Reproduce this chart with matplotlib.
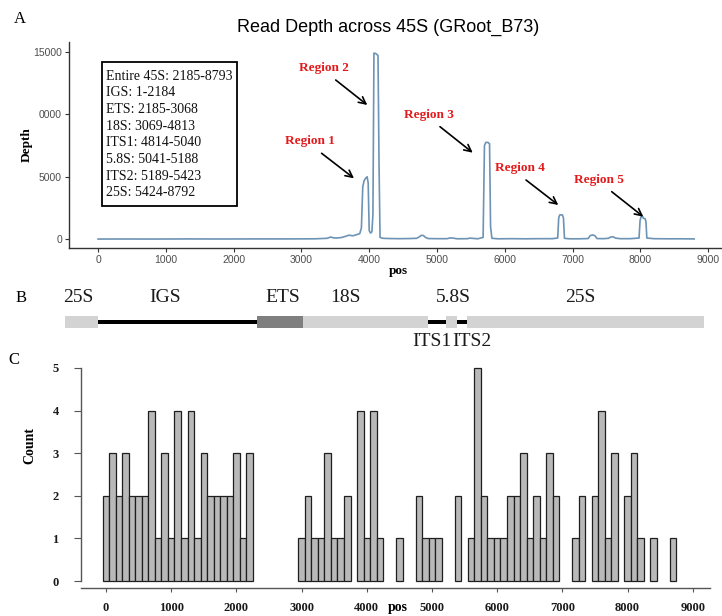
import matplotlib
matplotlib.use("Agg")
import matplotlib.pyplot as plt
from matplotlib.patches import Rectangle

W, H = 722, 616

# ---- panel A: read depth across the 45S unit
depth_pos = [1, 300, 800, 1300, 1800, 2300, 2800, 3200, 3380, 3430,
             3470, 3520, 3600, 3660, 3700, 3760, 3820, 3860, 3885, 3905,
             3925, 3950, 3970, 3985, 4000, 4020, 4040, 4055, 4070, 4100,
             4130, 4145, 4160, 4200, 4300, 4450, 4600, 4700, 4740, 4770,
             4800, 4830, 4870, 5000, 5150, 5190, 5230, 5300, 5450, 5480,
             5520, 5600, 5680, 5700, 5720, 5750, 5775, 5790, 5810, 5900,
             6100, 6300, 6500, 6700, 6780, 6795, 6810, 6850, 6865, 6880,
             6950, 7100, 7230, 7260, 7300, 7330, 7360, 7450, 7530, 7560,
             7600, 7630, 7700, 7850, 7980, 7995, 8010, 8035, 8045, 8070,
             8082, 8095, 8200, 8400, 8600, 8793]
depth_val = [20, 25, 20, 30, 25, 30, 30, 40, 80, 180,
             120, 100, 150, 250, 330, 280, 380, 450, 900, 4200,
             4700, 4900, 5000, 4500, 700, 500, 600, 2000, 14900, 14850,
             14700, 6000, 150, 80, 60, 50, 60, 80, 200, 320,
             300, 150, 60, 50, 50, 110, 100, 40, 50, 90,
             80, 40, 150, 7500, 7750, 7750, 7650, 1000, 80, 40,
             50, 40, 50, 50, 100, 1700, 1950, 1950, 1700, 80,
             40, 40, 60, 300, 350, 280, 60, 50, 80, 180,
             200, 100, 50, 50, 100, 1500, 1800, 1800, 1680, 1650,
             1400, 100, 50, 40, 40, 30]

info_lines = ["Entire 45S: 2185-8793", "IGS: 1-2184", "ETS: 2185-3068",
              "18S: 3069-4813", "ITS1: 4814-5040", "5.8S: 5041-5188",
              "ITS2: 5189-5423", "25S: 5424-8792"]

region_names = ["Region 1", "Region 2", "Region 3", "Region 4", "Region 5"]
region_text = [(3127, 7864), (3333, 13728), (4882, 9944), (6224, 5728), (7389, 4744)]
region_tail = [(3298, 6880), (3506, 12744), (5044, 9008), (6313, 4744), (7577, 3808)]
region_tip = [(3776, 4880), (3972, 10744), (5527, 6928), (6789, 2744), (8043, 1808)]

# ---- panel B: 45S unit diagram
seg_start = [-490, 0, 2350, 3030, 4870, 5130, 5290, 5440]
seg_end = [0, 2350, 3030, 4870, 5130, 5290, 5440, 8940]
seg_kind = ["rRNA", "spacer", "ETS", "rRNA", "spacer", "rRNA", "spacer", "rRNA"]
b_labels = ["25S", "IGS", "ETS", "18S", "5.8S", "25S", "ITS1", "ITS2"]
b_label_x = [-295, 988, 2729, 3643, 5236, 7109, 4922, 5512]
b_label_row = ["top", "top", "top", "top", "top", "top", "bottom", "bottom"]

# ---- panel C: histogram of counts (100 bp bins)
hist_pos = [0, 100, 200, 300, 400, 500, 600, 700, 800, 900,
            1000, 1100, 1200, 1300, 1400, 1500, 1600, 1700, 1800, 1900,
            2000, 2100, 2200, 3000, 3100, 3200, 3300, 3400, 3500, 3600,
            3700, 3900, 4000, 4100, 4200, 4500, 4800, 4900, 5000, 5100,
            5400, 5600, 5700, 5800, 5900, 6000, 6100, 6200, 6300, 6400,
            6500, 6600, 6700, 6800, 6900, 7200, 7300, 7500, 7600, 7700,
            7800, 8000, 8100, 8200, 8400, 8700]
hist_count = [2, 3, 2, 3, 2, 2, 2, 4, 1, 3,
              1, 4, 1, 4, 1, 3, 2, 2, 2, 2,
              3, 1, 3, 1, 2, 1, 1, 3, 1, 1,
              2, 4, 1, 4, 1, 1, 2, 1, 1, 1,
              2, 1, 5, 2, 1, 1, 1, 2, 2, 3,
              1, 2, 1, 3, 2, 1, 2, 2, 4, 1,
              3, 2, 3, 1, 1, 1]


def fx(px):
    return px / W


def fy(py):
    return 1 - py / H


serif = "Liberation Serif"
sans = "Liberation Sans"

fig = plt.figure(figsize=(W / 100, H / 100), dpi=100)
fig.patch.set_facecolor("white")

# ---------------- A
a_x0, a_sc = 98.0, 0.0678      # px of pos 0, px per bp
a_y0, a_sy = 239.3, 0.0125     # px of depth 0, px per read
axA = fig.add_axes([fx(69), fy(248.3), fx(722) - fx(69), (248.3 - 42) / H])
axA.plot(depth_pos, depth_val, color="#6d93b5", lw=1.2)
axA.set_xlim((69 - a_x0) / a_sc, (722 - a_x0) / a_sc)
axA.set_ylim((a_y0 - 248.3) / a_sy, (a_y0 - 42) / a_sy)
axA.set_xticks(range(0, 9001, 1000))
axA.set_yticks([0, 5000, 10000, 15000])
axA.set_yticklabels(["0", "5000", "0000", "15000"])
for s in ["top", "right"]:
    axA.spines[s].set_visible(False)
for s in ["left", "bottom"]:
    axA.spines[s].set_color("#333333")
    axA.spines[s].set_linewidth(1.0)
axA.tick_params(length=3, width=0.8, color="#333333", labelcolor="#4d4d4d",
                labelsize=7.5, pad=2)
for t in axA.get_xticklabels() + axA.get_yticklabels():
    t.set_fontfamily(sans)

for name, txy, tail, tip in zip(region_names, region_text, region_tail, region_tip):
    axA.text(txy[0], txy[1], name, color="#e31a1c", fontsize=9.5, fontweight="bold",
             family=serif, ha="center", va="center")
    axA.annotate("", xy=tip, xytext=tail,
                 arrowprops=dict(arrowstyle="->,head_length=0.5,head_width=0.25",
                                 color="black", lw=1.2, shrinkA=0, shrinkB=0))

fig.add_artist(Rectangle((fx(101.7), fy(206)), fx(237.3) - fx(101.7), (206 - 61.7) / H,
                         transform=fig.transFigure, fill=False, ec="black", lw=1.3))
for i, line in enumerate(info_lines):
    fig.text(fx(105.5), fy(76 + i * 16.7), line, family=serif, fontsize=10,
             ha="left", va="center", color="#111111")

fig.text(fx(388), fy(27), "Read Depth across 45S (GRoot_B73)", family=sans,
         fontsize=13, ha="center", va="center")
fig.text(fx(27), fy(145), "Depth", family=serif, fontweight="bold", fontsize=9.5,
         rotation=90, ha="center", va="center")
fig.text(fx(398), fy(271), "pos", family=serif, fontweight="bold", fontsize=9.5,
         ha="center", va="center")

# ---------------- B
axB = fig.add_axes([0, fy(355), 1, 70 / H])
axB.set_xlim((0 - a_x0) / a_sc, (722 - a_x0) / a_sc)
axB.set_ylim(355, 285)
axB.axis("off")
for s, e, k in zip(seg_start, seg_end, seg_kind):
    if k == "rRNA":
        axB.barh(322, e - s, left=s, height=12.7, color="#d3d3d3", lw=0)
    elif k == "ETS":
        axB.barh(322, e - s, left=s, height=12.7, color="#7f7f7f", lw=0)
    else:
        axB.barh(322, e - s, left=s, height=4.8, color="black", lw=0)
for lab, x, row in zip(b_labels, b_label_x, b_label_row):
    axB.text(x, 297 if row == "top" else 341.7, lab, family=serif, fontsize=14,
             ha="center", va="center", color="#1a1a1a")

# ---------------- C
c_x0, c_sc = 106.0, 0.0652
c_y0, c_sy = 581.0, 42.6
axC = fig.add_axes([fx(81), fy(588), (710 - 81) / W, (588 - 360) / H])
axC.bar(hist_pos, hist_count, width=100, color="#b9b9b9", edgecolor="#1e1e1e", lw=0.9)
axC.set_xlim((81 - c_x0) / c_sc, (710 - c_x0) / c_sc)
axC.set_ylim((c_y0 - 588) / c_sy, (c_y0 - 360) / c_sy)
axC.set_xticks(range(0, 9001, 1000))
axC.set_yticks(range(0, 6))
for s in ["top", "right"]:
    axC.spines[s].set_visible(False)
axC.spines["left"].set_bounds(0, 5)
for s in ["left", "bottom"]:
    axC.spines[s].set_color("#555555")
    axC.spines[s].set_linewidth(1.0)
axC.tick_params(axis="x", length=3, width=0.8, color="#555555", pad=7)
axC.tick_params(axis="y", length=5, width=0.8, color="#555555", pad=11)
for t in axC.get_xticklabels() + axC.get_yticklabels():
    t.set_fontfamily(serif)
    t.set_fontweight("bold")
    t.set_fontsize(9)
    t.set_color("#1a1a1a")
fig.text(fx(30), fy(445), "Count", family=serif, fontweight="bold", fontsize=10,
         rotation=90, ha="center", va="center")
fig.text(fx(398), fy(607), "pos", family=serif, fontweight="bold", fontsize=10,
         ha="center", va="center")

# panel letters
fig.text(fx(20), fy(19), "A", family=serif, fontsize=12, ha="center", va="center")
fig.text(fx(21), fy(298), "B", family=serif, fontsize=12, ha="center", va="center")
fig.text(fx(14), fy(360), "C", family=serif, fontsize=12, ha="center", va="center")

fig.savefig("out.png", dpi=100)
